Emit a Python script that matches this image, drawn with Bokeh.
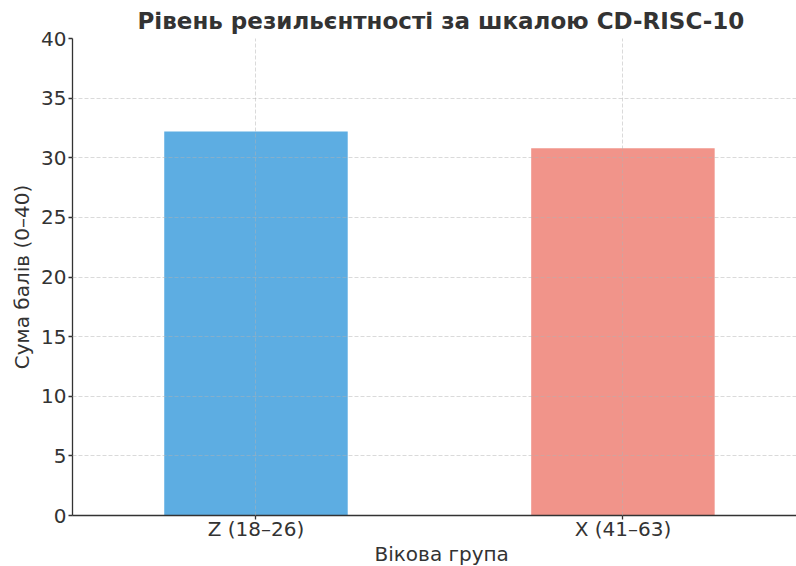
from bokeh.plotting import figure
from bokeh.models import FixedTicker, Range1d, Title
from bokeh.embed import file_html
from bokeh.resources import INLINE

categories = ["Z (18–26)", "X (41–63)"]
scores = [32.2, 30.8]
colors = ["#5DADE2", "#F1948A"]
y_ticks = [0, 5, 10, 15, 20, 25, 30, 35, 40]

title_text = "Рівень резильєнтності за шкалою CD-RISC-10"
x_label = "Вікова група"
y_label = "Сума балів (0–40)"

xs = list(range(len(categories)))

p = figure(width=796, height=566, output_backend="svg", toolbar_location=None,
           x_range=Range1d(-0.5, 1.473), y_range=Range1d(0, 40),
           min_border_left=72, min_border_right=0, min_border_top=38,
           min_border_bottom=51)

p.vbar(x=xs, top=scores, width=0.5, fill_color=colors, line_color=None)

font = "DejaVu Sans"
text_col = "#333333"

p.title.text = title_text
p.title.text_font = font
p.title.text_font_size = "23px"
p.title.text_font_style = "bold"
p.title.text_color = text_col
p.title.align = "left"
p.title.offset = 65
p.title.standoff = 10

p.outline_line_color = None
p.background_fill_color = "white"
p.border_fill_color = "white"

p.xaxis.ticker = FixedTicker(ticks=xs)
p.xaxis.major_label_overrides = {i: c for i, c in enumerate(categories)}
p.yaxis.ticker = FixedTicker(ticks=y_ticks)
p.yaxis.axis_label = y_label

for ax in (p.xaxis, p.yaxis):
    ax.axis_line_color = "#333333"
    ax.axis_line_width = 1.3
    ax.major_tick_line_color = "#333333"
    ax.major_tick_line_width = 1.3
    ax.major_tick_in = 0
    ax.major_tick_out = 4
    ax.minor_tick_line_color = None
    ax.major_label_text_font = font
    ax.major_label_text_font_size = "20px"
    ax.major_label_text_color = text_col
    ax.axis_label_text_font = font
    ax.axis_label_text_font_size = "20px"
    ax.axis_label_text_font_style = "normal"
    ax.axis_label_text_color = text_col

p.xaxis.major_label_standoff = -3
p.yaxis.major_label_standoff = 2
p.yaxis.axis_label_standoff = 4

# x-axis title as a title panel below the tick labels
p.add_layout(Title(text=x_label, align="left", offset=302, standoff=-7,
                   text_font=font, text_font_size="20px",
                   text_font_style="normal", text_color=text_col), "below")

for g in (p.xgrid, p.ygrid):
    g.grid_line_color = "#b0b0b0"
    g.grid_line_alpha = 0.6
    g.grid_line_dash = "4 2"
    g.grid_line_width = 0.8
    g.level = "overlay"
p.xgrid.ticker = FixedTicker(ticks=xs)
p.ygrid.ticker = FixedTicker(ticks=y_ticks)

open("out.html", "w").write(file_html(p, INLINE))
